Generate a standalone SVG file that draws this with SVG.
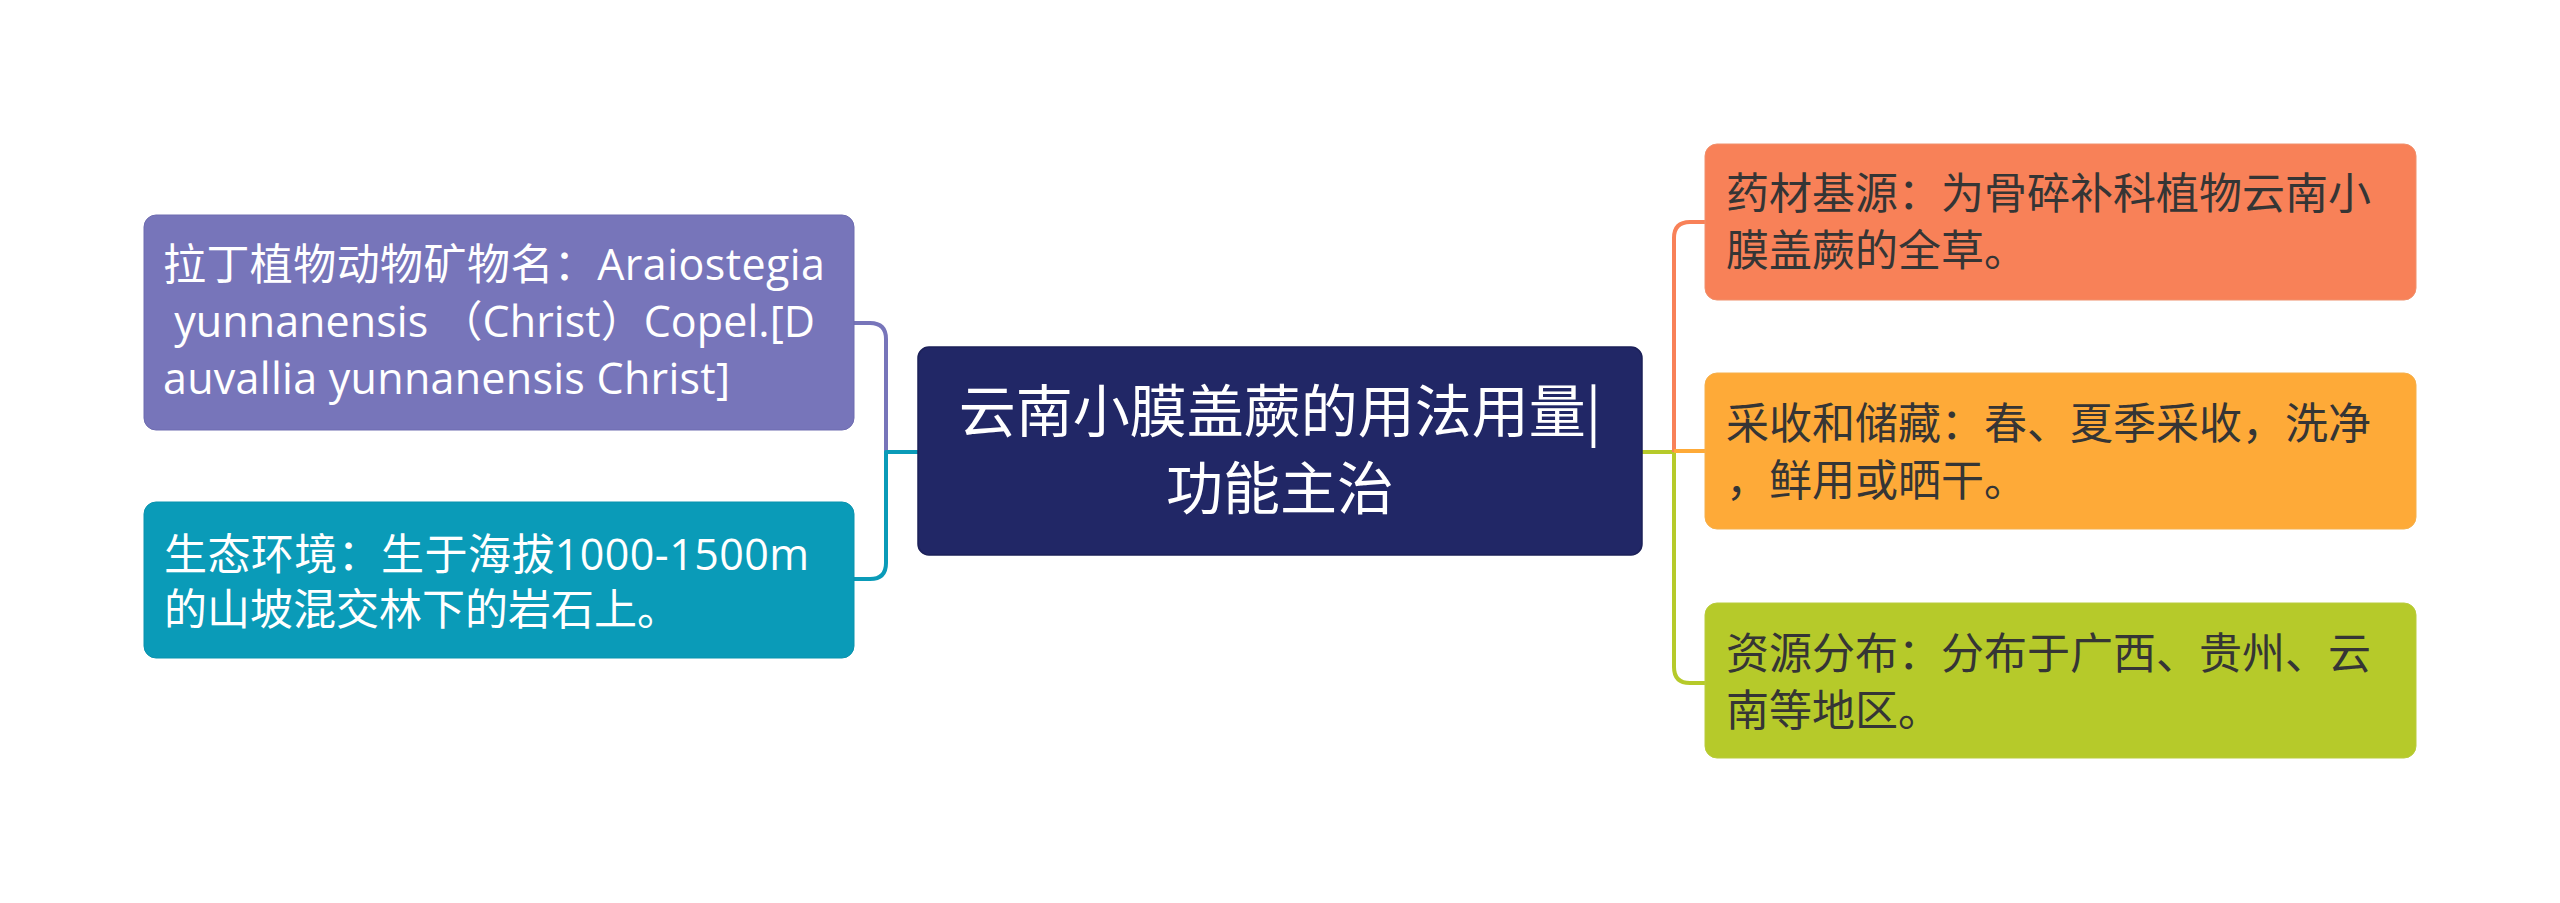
<svg xmlns="http://www.w3.org/2000/svg" width="2560" height="903" viewBox="0 0 2560 903">
<style>
.t{font-family:"Open Sans","Noto Sans CJK SC",sans-serif;font-size:43px}
.dk{fill:#353535}
.wh{fill:#ffffff}
.c{fill:none;stroke-width:4;stroke-linecap:butt;stroke-linejoin:round}
.main{font-family:"Noto Sans CJK SC",sans-serif;font-size:57px;fill:#ffffff;text-anchor:middle}
</style>
<rect x="0" y="0" width="2560" height="903" fill="#ffffff"/>
<g id="connectors">
<path class="c" stroke="#7775BA" d="M886 452 V339 Q886 323 870 323 H854"/>
<path class="c" stroke="#0A9BB8" d="M918 452 H886 V563 Q886 579 870 579 H854"/>
<path class="c" stroke="#B6CA2A" d="M1642 452 H1674 V667 Q1674 683 1690 683 H1705"/>
<path class="c" stroke="#F88158" d="M1674 452 V238 Q1674 222 1690 222 H1705"/>
<path class="c" stroke="#FEAA38" d="M1674 451 H1705"/>
</g>
<g id="center">
<rect x="918" y="347" width="724" height="208" rx="11" fill="#212766" stroke="#1b2058" stroke-width="1.5"/>
<text class="main" x="1280" y="432">云南小膜盖蕨的用法用量|</text>
<text class="main" x="1280" y="509">功能主治</text>
</g>
<g id="latin-name">
<rect x="144" y="215" width="710" height="215" rx="12" fill="#7775BA" stroke="#6e6cb0" stroke-width="1"/>
<text class="t wh" x="163" y="280" textLength="662" lengthAdjust="spacing">拉丁植物动物矿物名：Araiostegia</text>
<text class="t wh" x="163" y="337" textLength="652" lengthAdjust="spacing" xml:space="preserve"> yunnanensis （Christ）Copel.[D</text>
<text class="t wh" x="163" y="394" textLength="567" lengthAdjust="spacing">auvallia yunnanensis Christ]</text>
</g>
<g id="habitat">
<rect x="144" y="502" width="710" height="156" rx="12" fill="#0A9BB8" stroke="#0993ae" stroke-width="1"/>
<text class="t wh" x="164" y="570" textLength="645" lengthAdjust="spacing">生态环境：生于海拔1000-1500m</text>
<text class="t wh" x="164" y="625">的山坡混交林下的岩石上。</text>
</g>
<g id="source">
<rect x="1705" y="144" width="711" height="156" rx="12" fill="#F88158" stroke="#f0906c" stroke-width="1"/>
<text class="t dk" x="1726" y="209">药材基源：为骨碎补科植物云南小</text>
<text class="t dk" x="1726" y="266">膜盖蕨的全草。</text>
</g>
<g id="harvest">
<rect x="1705" y="373" width="711" height="156" rx="12" fill="#FEAA38" stroke="#f5b04c" stroke-width="1"/>
<text class="t dk" x="1726" y="439">采收和储藏：春、夏季采收，洗净</text>
<text class="t dk" x="1726" y="496">，鲜用或晒干。</text>
</g>
<g id="distribution">
<rect x="1705" y="603" width="711" height="155" rx="12" fill="#B6CA2A" stroke="#b9cc3c" stroke-width="1"/>
<text class="t dk" x="1726" y="669">资源分布：分布于广西、贵州、云</text>
<text class="t dk" x="1726" y="726">南等地区。</text>
</g>
</svg>
